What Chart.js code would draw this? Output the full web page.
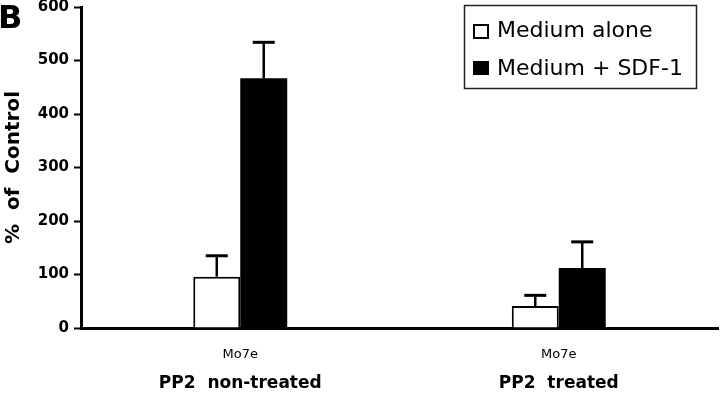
<!DOCTYPE html>
<html>
<head>
<meta charset="utf-8">
<script src="https://cdn.jsdelivr.net/npm/chart.js@4.4.1/dist/chart.umd.min.js"></script>
<style>
  html, body { margin: 0; padding: 0; background: #fff; }
  #wrap { width: 720px; height: 403px; position: relative; }
</style>
</head>
<body>
<div id="wrap"><canvas id="c" width="720" height="403"></canvas></div>
<script>
// ---- data ----
const categories = ["Mo7e", "Mo7e"];
const groupLabels = ["PP2  non-treated", "PP2  treated"];
const seriesNames = ["Medium alone", "Medium + SDF-1"];
const mediumAlone = [96, 41];
const mediumAloneErr = [39, 20];
const mediumSdf1 = [467, 112];
const mediumSdf1Err = [67, 49];
const yTicks = [0, 100, 200, 300, 400, 500, 600];
const panelLetter = "B";
const yTitle = "%  of  Control";

const FONT = "'DejaVu Sans', 'Liberation Sans', Arial, sans-serif";

const errorBars = {
  id: 'errorBars',
  afterDatasetsDraw(chart) {
    const ctx = chart.ctx;
    const y = chart.scales.y;
    ctx.save();
    ctx.strokeStyle = '#000';
    chart.data.datasets.forEach((ds, di) => {
      const meta = chart.getDatasetMeta(di);
      meta.data.forEach((bar, i) => {
        const v = ds.data[i];
        const e = ds.errors[i];
        const x = bar.x;
        const yTop = y.getPixelForValue(v);
        const yErr = y.getPixelForValue(v + e);
        ctx.lineWidth = 2.5;
        ctx.beginPath();
        ctx.moveTo(x, yTop);
        ctx.lineTo(x, yErr);
        ctx.stroke();
        ctx.lineWidth = 3;
        ctx.beginPath();
        ctx.moveTo(x - 11, yErr);
        ctx.lineTo(x + 11, yErr);
        ctx.stroke();
      });
    });
    ctx.restore();
  }
};

const extras = {
  id: 'extras',
  afterDraw(chart) {
    const ctx = chart.ctx;
    ctx.save();
    // panel letter
    ctx.fillStyle = '#000';
    ctx.font = 'bold 32px ' + FONT;
    ctx.textBaseline = 'alphabetic';
    ctx.textAlign = 'left';
    ctx.fillText(panelLetter, -2, 28);
    // legend box
    ctx.strokeStyle = '#222';
    ctx.lineWidth = 1.5;
    ctx.strokeRect(464.5, 5.5, 232, 83);
    const ds = chart.data.datasets;
    // item 1
    ctx.lineWidth = 2;
    ctx.fillStyle = '#fff';
    ctx.fillRect(474, 25, 14, 13);
    ctx.strokeStyle = '#000';
    ctx.strokeRect(474, 25, 14, 13);
    ctx.fillStyle = '#000';
    ctx.font = '22px ' + FONT;
    ctx.fillText(ds[0].label, 497, 37);
    // item 2
    ctx.fillRect(473, 61, 16, 14);
    ctx.fillText(ds[1].label, 497, 75);
    ctx.restore();
  }
};

new Chart(document.getElementById('c'), {
  type: 'bar',
  data: {
    labels: categories,
    datasets: [
      {
        label: seriesNames[0],
        data: mediumAlone,
        errors: mediumAloneErr,
        backgroundColor: '#fff',
        borderColor: '#000',
        borderWidth: 2,
        xAxisID: 'x'
      },
      {
        label: seriesNames[1],
        data: mediumSdf1,
        errors: mediumSdf1Err,
        backgroundColor: '#000',
        borderColor: '#000',
        borderWidth: 0,
        xAxisID: 'x'
      }
    ]
  },
  options: {
    responsive: false,
    animation: false,
    devicePixelRatio: 1,
    layout: { padding: { top: 0, right: 2, left: 0, bottom: 0 } },
    categoryPercentage: 0.295,
    barPercentage: 1.0,
    plugins: {
      legend: { display: false },
      tooltip: { enabled: false }
    },
    scales: {
      x: {
        type: 'category',
        position: 'bottom',
        grid: { display: false, drawTicks: false, tickLength: 0 },
        border: { display: true, color: '#000', width: 3 },
        ticks: {
          color: '#000',
          font: { family: FONT, size: 13 },
          padding: 19,
          maxRotation: 0
        },
        afterFit(s) { s.height = 40; }
      },
      x2: {
        type: 'category',
        position: 'bottom',
        labels: groupLabels,
        grid: { display: false, drawTicks: false, tickLength: 0 },
        border: { display: false },
        ticks: {
          color: '#000',
          font: { family: FONT, size: 17, weight: 'bold' },
          padding: 5,
          maxRotation: 0
        },
        afterFit(s) { s.height = 35; }
      },
      y: {
        min: 0,
        max: 600,
        afterBuildTicks(s) { s.ticks = yTicks.map(v => ({ value: v })); },
        grid: {
          display: true,
          drawOnChartArea: false,
          drawTicks: true,
          tickLength: 7,
          tickWidth: 2,
          tickColor: '#000'
        },
        border: { display: true, color: '#000', width: 3 },
        ticks: {
          color: '#000',
          font: { family: FONT, size: 15, weight: 'bold' },
          padding: 5
        },
        title: {
          display: true,
          text: yTitle,
          color: '#000',
          font: { family: FONT, size: 20, weight: 'bold' },
          padding: { top: 2, bottom: 0 }
        },
        afterFit(s) { s.width = 81; s.paddingTop = 7; }
      }
    }
  },
  plugins: [errorBars, extras]
});
</script>
</body>
</html>
